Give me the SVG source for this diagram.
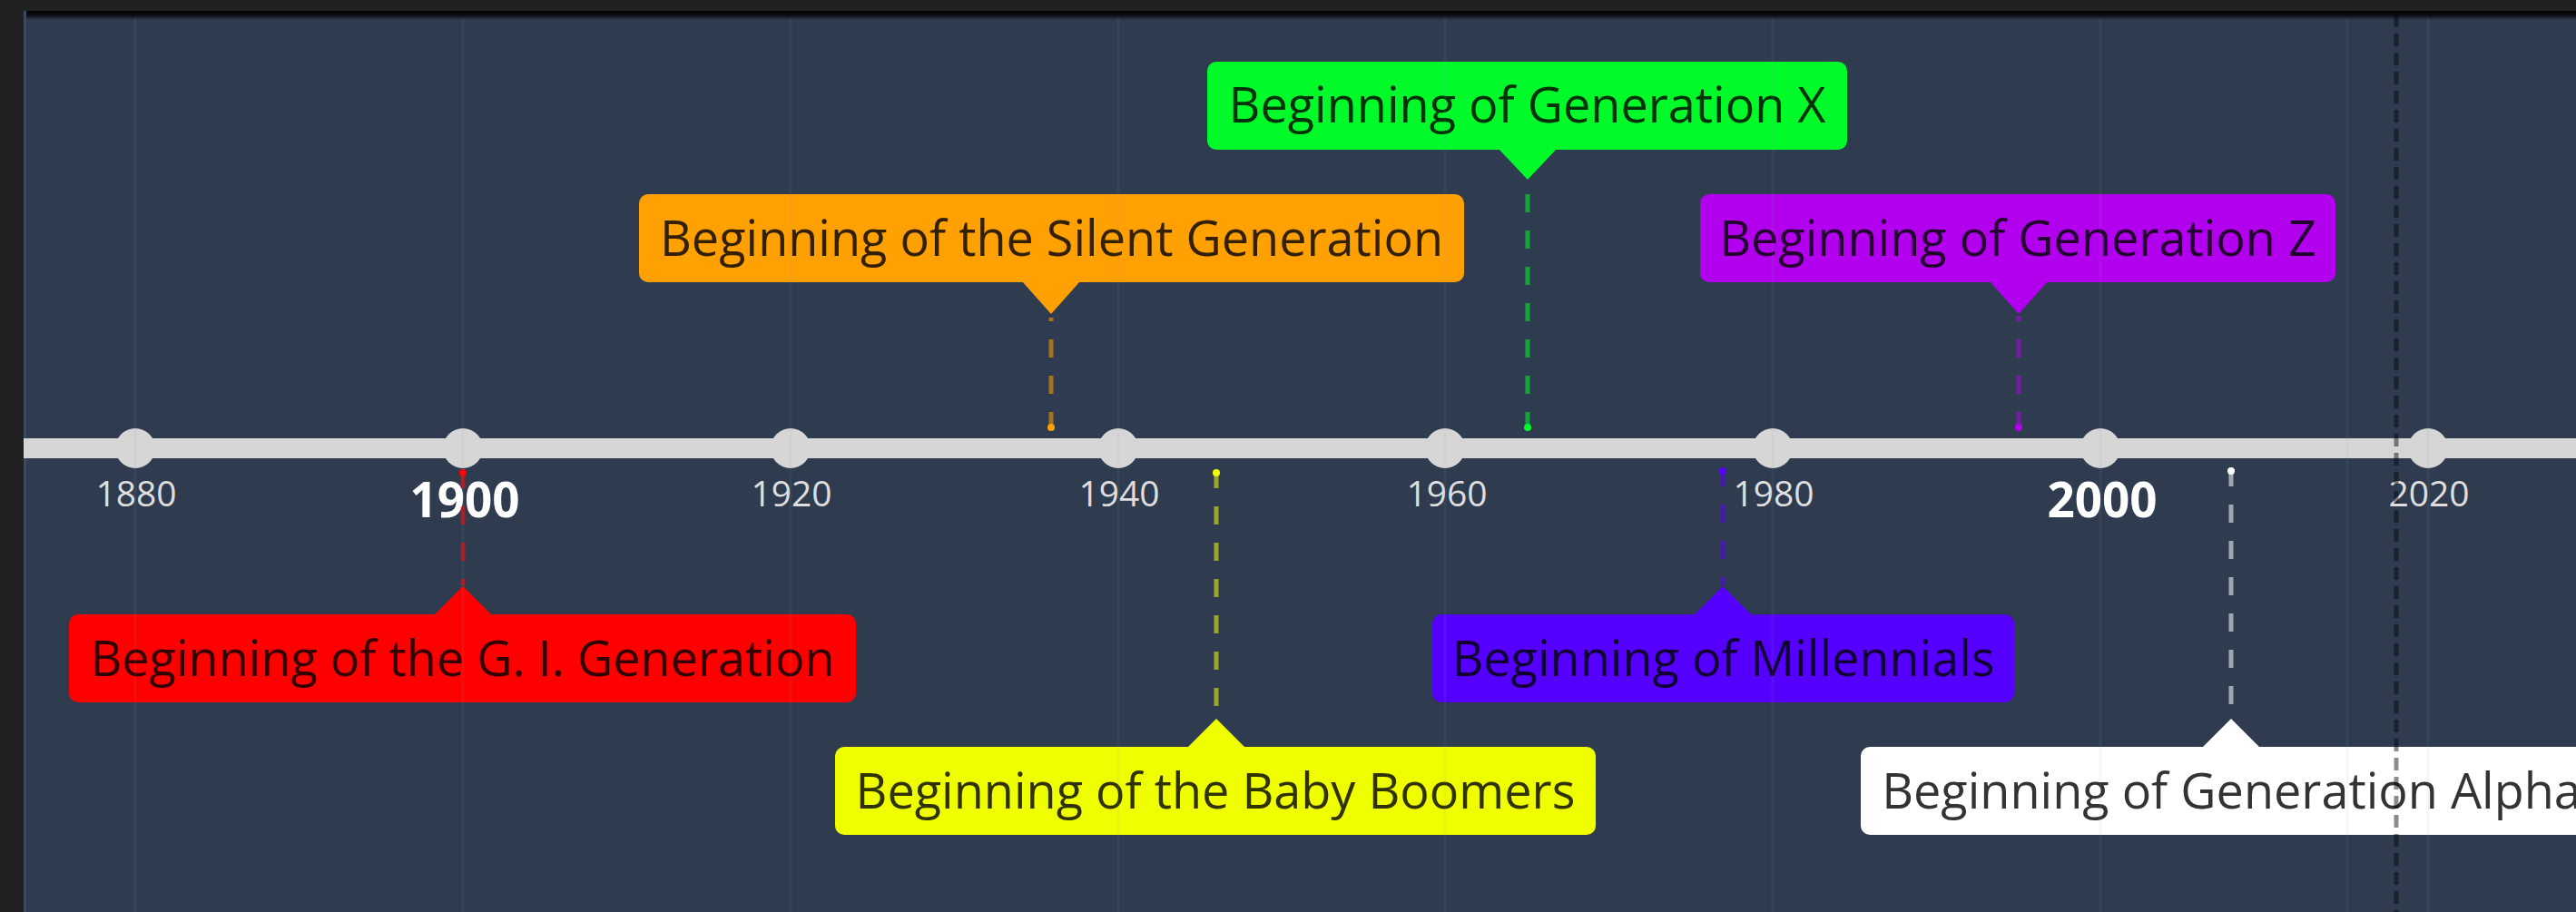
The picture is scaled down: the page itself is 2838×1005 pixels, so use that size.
<svg xmlns="http://www.w3.org/2000/svg" width="2838" height="1005" viewBox="0 0 2838 1005">
<defs>
<linearGradient id="topShade" x1="0" y1="0" x2="0" y2="1">
<stop offset="0" stop-color="#000" stop-opacity="1"/>
<stop offset="0.5" stop-color="#000" stop-opacity="0.75"/>
<stop offset="1" stop-color="#000" stop-opacity="0"/>
</linearGradient>
</defs>
<style>
.lbl { font-family: "Open Sans", "Liberation Sans", sans-serif; font-size: 54px; fill: #000; fill-opacity: 0.8; text-anchor: middle; }
.yr { font-family: "Open Sans", "Liberation Sans", sans-serif; font-size: 39px; fill: #dedede; text-anchor: middle; }
.yrb { font-size: 53px; font-weight: bold; fill: #ffffff; }
.grid { stroke: #8898aa; stroke-opacity: 0.09; stroke-width: 3; }
.conn { stroke-width: 5; stroke-dasharray: 20 20; stroke-opacity: 0.55; fill: none; }
.tick { fill: #d6d6d6; }
</style>

<!-- frame and background -->
<rect width="2838" height="1005" fill="#212121"/>
<rect x="26" y="12" width="2812" height="993" fill="#2f3c50"/>
<rect x="26" y="12" width="2812" height="10" fill="url(#topShade)"/>
<rect x="26" y="12" width="3" height="993" fill="#3b4a60"/>

<!-- timeline axis -->
<g id="axis">
<rect x="26" y="483" width="2812" height="22" class="tick"/>
<circle cx="149" cy="494" r="22" class="tick"/>
<circle cx="510" cy="494" r="22" class="tick"/>
<circle cx="871" cy="494" r="22" class="tick"/>
<circle cx="1232" cy="494" r="22" class="tick"/>
<circle cx="1592" cy="494" r="22" class="tick"/>
<circle cx="1953" cy="494" r="22" class="tick"/>
<circle cx="2314" cy="494" r="22" class="tick"/>
<circle cx="2675" cy="494" r="22" class="tick"/>
<text x="150" y="558" class="yr">1880</text>
<text x="512" y="570" class="yr yrb">1900</text>
<text x="872" y="558" class="yr">1920</text>
<text x="1233" y="558" class="yr">1940</text>
<text x="1594" y="558" class="yr">1960</text>
<text x="1954" y="558" class="yr">1980</text>
<text x="2316" y="570" class="yr yrb">2000</text>
<text x="2676" y="558" class="yr">2020</text>
</g>

<!-- connectors -->
<g id="connectors">
<line x1="510" y1="518" x2="510" y2="645" class="conn" stroke="#ff0000"/>
<circle cx="510" cy="521" r="4" fill="#ff0000"/>
<line x1="1158" y1="474" x2="1158" y2="350" class="conn" stroke="#ffa102"/>
<circle cx="1158" cy="471" r="4" fill="#ffa102"/>
<line x1="1683" y1="474" x2="1683" y2="200" class="conn" stroke="#00fa2a"/>
<circle cx="1683" cy="471" r="4" fill="#00fa2a"/>
<line x1="2224" y1="474" x2="2224" y2="348" class="conn" stroke="#b200ef"/>
<circle cx="2224" cy="471" r="4" fill="#b200ef"/>
<line x1="1340" y1="518" x2="1340" y2="790" class="conn" stroke="#f0ff00"/>
<circle cx="1340" cy="521" r="4" fill="#f0ff00"/>
<line x1="1898" y1="516" x2="1898" y2="645" class="conn" stroke="#5500ff"/>
<circle cx="1898" cy="519" r="4" fill="#5500ff"/>
<line x1="2458" y1="516" x2="2458" y2="790" class="conn" stroke="#ffffff"/>
<circle cx="2458" cy="519" r="4" fill="#ffffff"/>
</g>

<!-- event nodes -->
<g id="gi-generation">
<rect x="76" y="677" width="867" height="97" rx="10" fill="#ff0000"/>
<polygon points="478,678 542,678 510,646" fill="#ff0000"/>
<text x="509.5" y="745" class="lbl">Beginning of the G. I. Generation</text>
</g>
<g id="silent-generation">
<rect x="704" y="214" width="909" height="97" rx="10" fill="#ffa102"/>
<polygon points="1126,310 1190,310 1158,346" fill="#ffa102"/>
<text x="1158.5" y="282" class="lbl">Beginning of the Silent Generation</text>
</g>
<g id="generation-x">
<rect x="1330" y="68" width="705" height="97" rx="10" fill="#00fa2a"/>
<polygon points="1651,164 1715,164 1683,198" fill="#00fa2a"/>
<text x="1682.5" y="135" class="lbl">Beginning of Generation X</text>
</g>
<g id="generation-z">
<rect x="1873" y="214" width="700" height="97" rx="10" fill="#b200ef"/>
<polygon points="2192,310 2256,310 2224,346" fill="#b200ef"/>
<text x="2223" y="282" class="lbl">Beginning of Generation Z</text>
</g>
<g id="baby-boomers">
<rect x="920" y="823" width="838" height="97" rx="10" fill="#f0ff00"/>
<polygon points="1308,824 1372,824 1340,792" fill="#f0ff00"/>
<text x="1339" y="891" class="lbl">Beginning of the Baby Boomers</text>
</g>
<g id="millennials">
<rect x="1578" y="677" width="641" height="97" rx="10" fill="#5500ff"/>
<polygon points="1866,678 1930,678 1898,646" fill="#5500ff"/>
<text x="1898.5" y="745" class="lbl">Beginning of Millennials</text>
</g>
<g id="generation-alpha">
<rect x="2050" y="823" width="817" height="97" rx="10" fill="#ffffff"/>
<polygon points="2426,824 2490,824 2458,792" fill="#ffffff"/>
<text x="2458.5" y="891" class="lbl">Beginning of Generation Alpha</text>
</g>

<!-- grid lines over everything -->
<g id="grid">
<line x1="149" y1="20" x2="149" y2="1005" class="grid"/>
<line x1="510" y1="20" x2="510" y2="1005" class="grid"/>
<line x1="871" y1="20" x2="871" y2="1005" class="grid"/>
<line x1="1232" y1="20" x2="1232" y2="1005" class="grid"/>
<line x1="1592" y1="20" x2="1592" y2="1005" class="grid"/>
<line x1="1953" y1="20" x2="1953" y2="1005" class="grid"/>
<line x1="2314" y1="20" x2="2314" y2="1005" class="grid"/>
<line x1="2586" y1="20" x2="2586" y2="1005" class="grid"/>
<line x1="2675" y1="20" x2="2675" y2="1005" class="grid"/>
</g>
<line id="today" x1="2640" y1="16" x2="2640" y2="1005" stroke="#000" stroke-opacity="0.45" stroke-width="5" stroke-dasharray="14 7"/>
</svg>
